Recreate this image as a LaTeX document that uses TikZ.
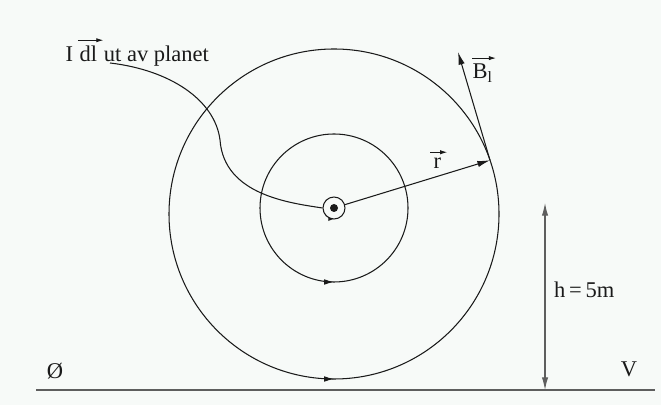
\documentclass[tikz,border=0pt]{standalone}
\usepackage{fontspec}
\setmainfont{Liberation Serif}
\usepackage{xcolor}
\usepackage{tikz}
\usetikzlibrary{arrows.meta, positioning, decorations.markings, calc}
\definecolor{ink}{HTML}{1A1A1A}
\definecolor{paper}{HTML}{F7FAF8}
\definecolor{earth}{HTML}{5E5E5E}

\begin{document}
\begin{tikzpicture}[x=0.025cm,y=0.025cm,>={Latex[length=9pt,width=4.5pt]},
  line width=0.75pt, draw=ink,
  every node/.style={font=\fontsize{16}{19}\selectfont, text=ink},
  fieldline/.style={postaction={decorate},decoration={markings,
      mark=at position 0.75 with {\arrow{Latex[length=7pt,width=4pt]}}}},
  ringline/.style={postaction={decorate},decoration={markings,
      mark=at position 0.75 with {\arrow{Latex[length=4pt,width=3pt]}}}},
  overvec/.style={-{Latex[length=5pt,width=3pt]},line width=0.6pt},
  word/.style={inner sep=0pt},
  ground/.style={draw=earth,line width=1.2pt}]
  \useasboundingbox[fill=paper] (0,0) rectangle (661,405);
  % wire and its field lines
  \coordinate (O) at (334,197);
  \coordinate (Ob) at (334,191);
  \draw[fieldline] (Ob) circle[radius=165];
  \draw[fieldline] (O) circle[radius=74];
  \draw[ringline] (O) circle[radius=11];
  \fill[ink] (O) circle[radius=4];
  \node[circle,inner sep=0pt,minimum size=0.55cm] (wire) at (O) {};
  % r and B
  \coordinate (P) at ($(Ob)+(19:165)$);
  \coordinate (Bend) at (458,353);
  \draw[->] (wire) -- (P);
  \draw[->] (P) -- (Bend);
  \node[word,anchor=base west] (rlbl) at (433,236) {r};
  \draw[overvec] ([shift={(-2pt,4pt)}]rlbl.north west) -- ([shift={(4pt,4pt)}]rlbl.north east);
  \node[word,anchor=base west] (Blbl) at (472,326) {B\textsubscript{l}};
  \draw[overvec] ([shift={(0pt,4pt)}]Blbl.north west) -- ([shift={(2pt,4pt)}]Blbl.north east);
  % current element
  \node[word,anchor=base west] (I) at (65,343) {I};
  \node[word,base right=4pt of I] (dl) {dl};
  \node[word,base right=4pt of dl] (planet) {ut av planet};
  \draw[overvec] ([shift={(-1pt,4pt)}]dl.north west) -- ([shift={(4pt,4pt)}]dl.north east);
  \coordinate (S) at (110,342);
  \coordinate (M) at (220,265);
  \draw (S) .. controls (170,335) and (215,305) .. (M)
            .. controls (224,210) and (290,202) .. (wire.west);
  % ground and height
  \coordinate (gL) at (36,15);
  \coordinate (gR) at (655,15);
  \draw[ground] (gL) -- (gR);
  \coordinate (hTop) at (545,202);
  \coordinate (hBot) at (545,15);
  \draw[<->,draw=earth] (hTop) -- (hBot);
  \node[anchor=west] (hlbl) at (549,115) {h\,=\,5m};
  \node (west) at (55,34) {Ø};
  \node (east) at (629,36) {V};
\end{tikzpicture}
\end{document}
